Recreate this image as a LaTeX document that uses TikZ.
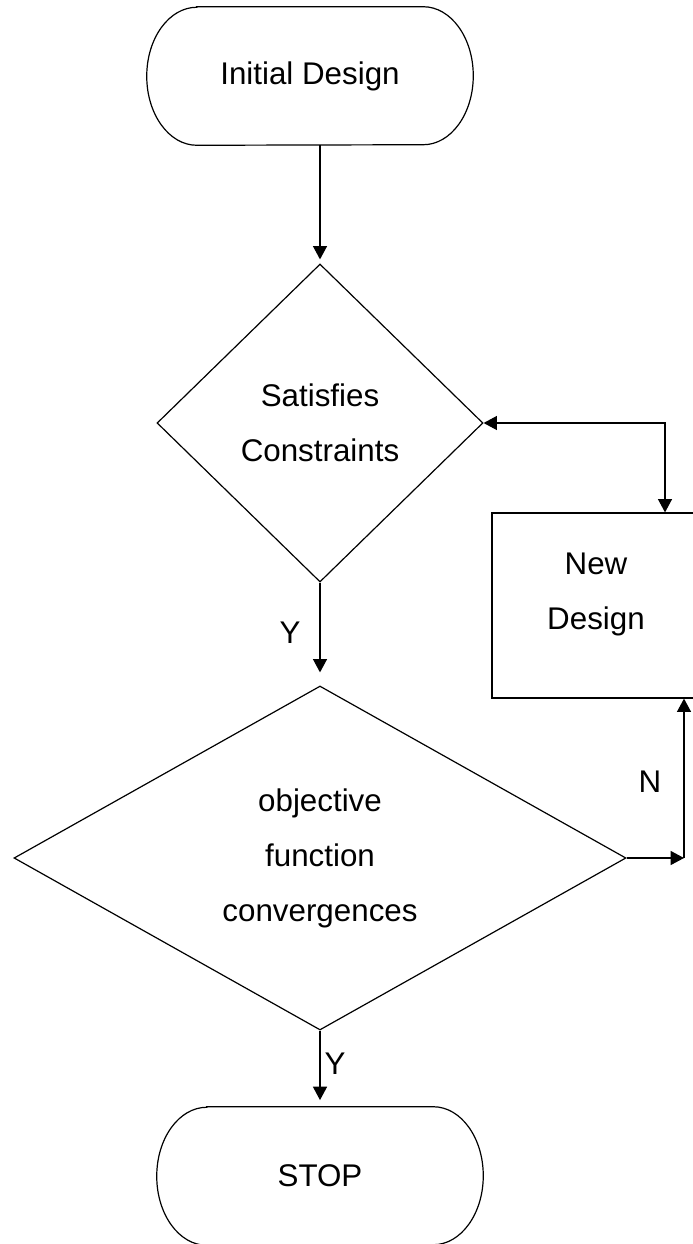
\documentclass[tikz,border=0pt]{standalone}
\usepackage{fontspec}
\setmainfont{Liberation Sans}
\usepackage{tikz}
\usetikzlibrary{calc}
\usetikzlibrary{shapes}
\usetikzlibrary{arrows.meta}
\newcommand{\terminal}[3]{\node[termbox] (#1) at (#2) {#3}; \draw[outline] ($(#1.north west)+(37.5pt,0)$) -- ($(#1.north east)+(-37.5pt,0)$) arc[start angle=90, end angle=-90, x radius=37.5pt, y radius=51.75pt] -- ($(#1.south west)+(37.5pt,0)$) arc[start angle=270, end angle=90, x radius=37.5pt, y radius=51.75pt] -- cycle;}

\begin{document}
\begin{tikzpicture}[x=0.75pt, y=0.75pt,
    outline/.style={line width=0.9pt},
    txt/.style={font=\fontsize{23.5pt}{41.25pt}\selectfont, align=center, inner sep=0pt},
    termbox/.style={txt, rectangle, minimum width=244.5pt, minimum height=103.5pt},
    decision/.style={txt, diamond, draw, outline},
    process/.style={rectangle, draw, outline, minimum width=156pt, minimum height=138.75pt},
    flow/.style={outline, -{Triangle[length=10pt, width=10.5pt]}},
    twoway/.style={outline, {Triangle[length=10pt, width=10.5pt]}-{Triangle[length=10pt, width=10.5pt]}}]
    \useasboundingbox (0,0) rectangle (692,-1244);

    \terminal{init}{310,-76}{Initial Design}
    \node[decision, minimum width=244.5pt, minimum height=238.5pt] (dia1) at (320,-423) {Satisfies\\Constraints};
    \node[decision, aspect=1.78, minimum width=459pt, minimum height=258pt] (dia2) at (320,-858) {objective\\function\\convergences};
    \node[process] (newd) at (596,-605.5) {};
    \node[txt] (newdtext) at (596,-594) {New\\Design};
    \terminal{stop}{320,-1176}{STOP}

    \coordinate (nturn) at (684,-858);
    \coordinate (loop) at (665,-423);

    \draw[flow] (dia1.north |- init.south) -- ([yshift=3pt]dia1.north);
    \draw[flow] (dia1.south) -- ([yshift=9.75pt]dia2.north);
    \draw[flow] (dia2.south) -- ([yshift=5pt]stop.north);
    \draw[flow] (dia2.east) -- (nturn);
    \draw[flow] (nturn) -- (nturn |- newd.south);
    \draw[twoway] (dia1.east) -- (loop) -- (loop |- newd.north);

    \node[txt, anchor=base] (yes1) at (290,-643) {Y};
    \node[txt, anchor=base] (yes2) at (335,-1074) {Y};
    \node[txt, anchor=base] (no) at (650,-792) {N};

\end{tikzpicture}
\end{document}
